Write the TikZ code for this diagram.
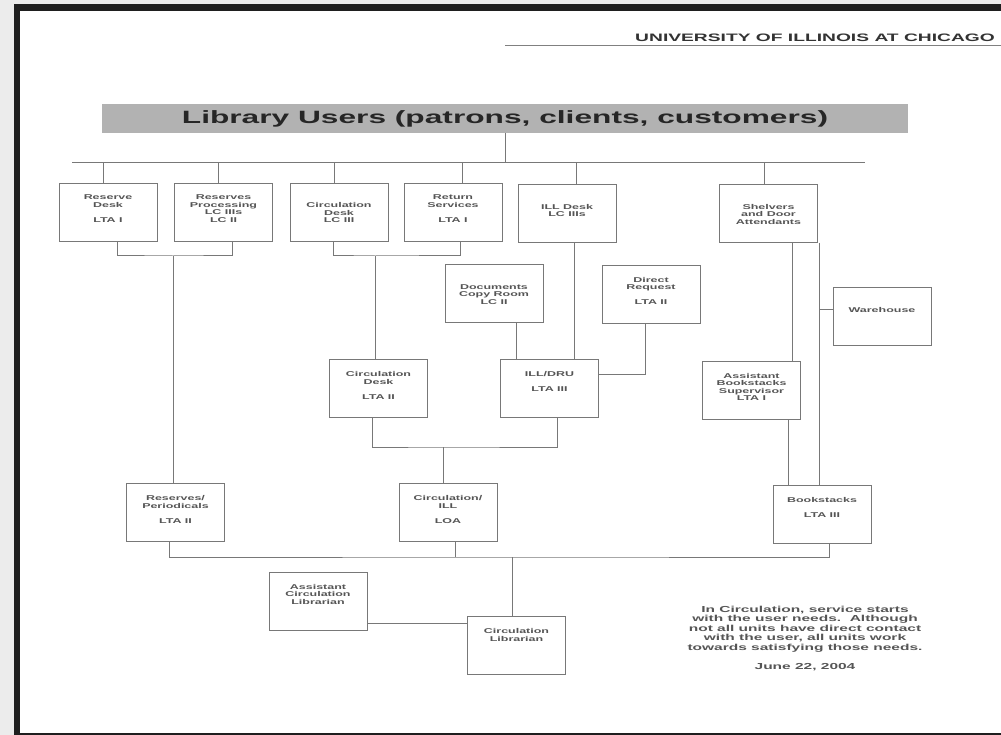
\documentclass[tikz,border=0pt]{standalone}
\usepackage{fontspec}
\usetikzlibrary{positioning}
\newfontfamily\scanfont[FakeStretch=1.78]{Liberation Sans}
\definecolor{pageGris}{RGB}{236,236,236}
\definecolor{bandeau}{RGB}{178,178,178}
\definecolor{trait}{RGB}{120,120,120}
\definecolor{encre}{RGB}{85,85,85}
\newcommand{\unitfont}{\scanfont\bfseries\fontsize{7}{7.5}\selectfont}
\newcommand{\unitbox}[1]{\parbox[c][58pt][t]{98pt}{\centering\vspace*{12pt}#1}}

\begin{document}
\begin{tikzpicture}[
  x=1pt, y=-1pt,
  unit/.style={draw=trait, line width=0.9pt, inner sep=0pt, fill=white, text=encre, font=\unitfont},
  link/.style={draw=trait, line width=1pt},
  banner/.style={fill=bandeau, minimum width=806pt, minimum height=29pt, inner sep=0pt,
                 text=black!85, font=\scanfont\bfseries\fontsize{17.8}{20}\selectfont},
  note/.style={align=center, text=encre, font=\scanfont\bfseries\fontsize{8.7}{9.6}\selectfont}
]
\useasboundingbox (0,0) rectangle (1001,735);
\fill[pageGris] (0,0) rectangle (1001,735);
\fill[black!88] (14,4) rectangle (1001,735);
\fill[white] (20,11) rectangle (1001,733);

\node[anchor=east, inner sep=0pt, text=black!80, font=\scanfont\bfseries\fontsize{10.8}{12}\selectfont]
     (uic) at (995,38) {UNIVERSITY OF ILLINOIS AT CHICAGO};
\draw[link, draw=black!50] (505,46) -- (1001,46);

\node[banner] (users) at (505,118.5) {Library Users (patrons, clients, customers)};

\node[unit] (resdesk)    at (108,212)     {\unitbox{Reserve\\Desk\\\strut\\LTA I}};
\node[unit] (resproc)    at (223.5,212)   {\unitbox{Reserves\\Processing\\LC IIIs\\LC II}};
\node[unit] (circdesk)   at (339,212)     {\unitbox{\strut\\Circulation\\Desk\\LC III}};
\node[unit] (retserv)    at (453,212)     {\unitbox{Return\\Services\\\strut\\LTA I}};
\node[unit] (illdesk)    at (567,213.5)   {\unitbox{\strut\\ILL Desk\\LC IIIs}};
\node[unit] (shelvers)   at (768.5,213.5) {\unitbox{\strut\\Shelvers\\and Door\\Attendants}};
\node[unit] (docs)       at (494,293.5)   {\unitbox{\strut\\Documents\\Copy Room\\LC II}};
\node[unit] (direct)     at (651,294)     {\unitbox{Direct\\Request\\\strut\\LTA II}};
\node[unit] (warehouse)  at (882,316.5)   {\unitbox{\strut\\Warehouse}};
\node[unit] (circlta)    at (378.5,388.5) {\unitbox{Circulation\\Desk\\\strut\\LTA II}};
\node[unit] (illdru)     at (549.5,388.5) {\unitbox{ILL/DRU\\\strut\\LTA III}};
\node[unit] (asstbook)   at (751.5,390)   {\unitbox{Assistant\\Bookstacks\\Supervisor\\LTA I}};
\node[unit] (resper)     at (175.5,512.5) {\unitbox{Reserves/\\Periodicals\\\strut\\LTA II}};
\node[unit] (circill)    at (448,512.5)   {\unitbox{Circulation/\\ILL\\\strut\\LOA}};
\node[unit] (bookstacks) at (822,514)     {\unitbox{Bookstacks\\\strut\\LTA III}};
\node[unit] (asstcirc)   at (318,601)     {\unitbox{Assistant\\Circulation\\Librarian}};
\node[unit] (circlib)    at (516.5,645.5) {\unitbox{Circulation\\Librarian}};

\node[note] (mission) at (805,629) {In Circulation, service starts\\with the user needs.\ \ Although\\
  not all units have direct contact\\with the user, all units work\\towards satisfying those needs.};
\node[note] (date) at (805,667) {June 22, 2004};

\coordinate (busW) at (72,163);
\coordinate (busE) at (865,163);
\coordinate (joinres) at (173,256);
\coordinate (joincirc) at (375,256);
\coordinate (joinill) at (443,447);
\coordinate (lowbus) at (512,557);
\coordinate (shelfline) at ([xshift=2pt]shelvers.south east);

\draw[link] (busW) -- (busE);
\draw[link] (users.south) -- (users.south |- busW);
\foreach \u/\dx in {resdesk/-5, resproc/-5, circdesk/-5, retserv/9, illdesk/9, shelvers/-4}
  \draw[link] ([xshift=\dx pt]\u.north) -- ([xshift=\dx pt]\u.north |- busW);

\draw[link] ([xshift=9pt]resdesk.south) |- (joinres) -| ([xshift=9pt]resproc.south);
\draw[link] (joinres) -- (resper.north -| joinres);
\draw[link] ([xshift=-6pt]circdesk.south) |- (joincirc) -| ([xshift=7pt]retserv.south);
\draw[link] (joincirc) -- (circlta.north -| joincirc);

\draw[link] ([xshift=7pt]illdesk.south) -- ([xshift=7pt]illdesk.south |- illdru.north);
\draw[link] ([xshift=22pt]docs.south) -- ([xshift=22pt]docs.south |- illdru.north);
\draw[link] ([xshift=-6pt]direct.south) |- ([yshift=14pt]illdru.east);
\draw[link] ([xshift=-6pt]circlta.south) |- (joinill) -| ([xshift=8pt]illdru.south);
\draw[link] (joinill) -- (circill.north -| joinill);

\draw[link] ([xshift=24pt]shelvers.south) -- ([xshift=24pt]shelvers.south |- asstbook.north);
\draw[link] (shelfline) -- (shelfline |- bookstacks.north);
\draw[link] ([yshift=7.5pt]warehouse.west) -- ([yshift=7.5pt]warehouse.west -| shelfline);
\draw[link] ([xshift=37pt]asstbook.south) -- ([xshift=37pt]asstbook.south |- bookstacks.north);

\draw[link] ([xshift=7pt]bookstacks.south) |- (lowbus) -| ([xshift=-6pt]resper.south);
\draw[link] ([xshift=7pt]circill.south) -- ([xshift=7pt]circill.south |- lowbus);
\draw[link] (lowbus) -- (circlib.north -| lowbus);
\draw[link] ([yshift=-22pt]asstcirc.east) -- ([yshift=-22pt]asstcirc.east -| circlib.west);
\end{tikzpicture}
\end{document}
